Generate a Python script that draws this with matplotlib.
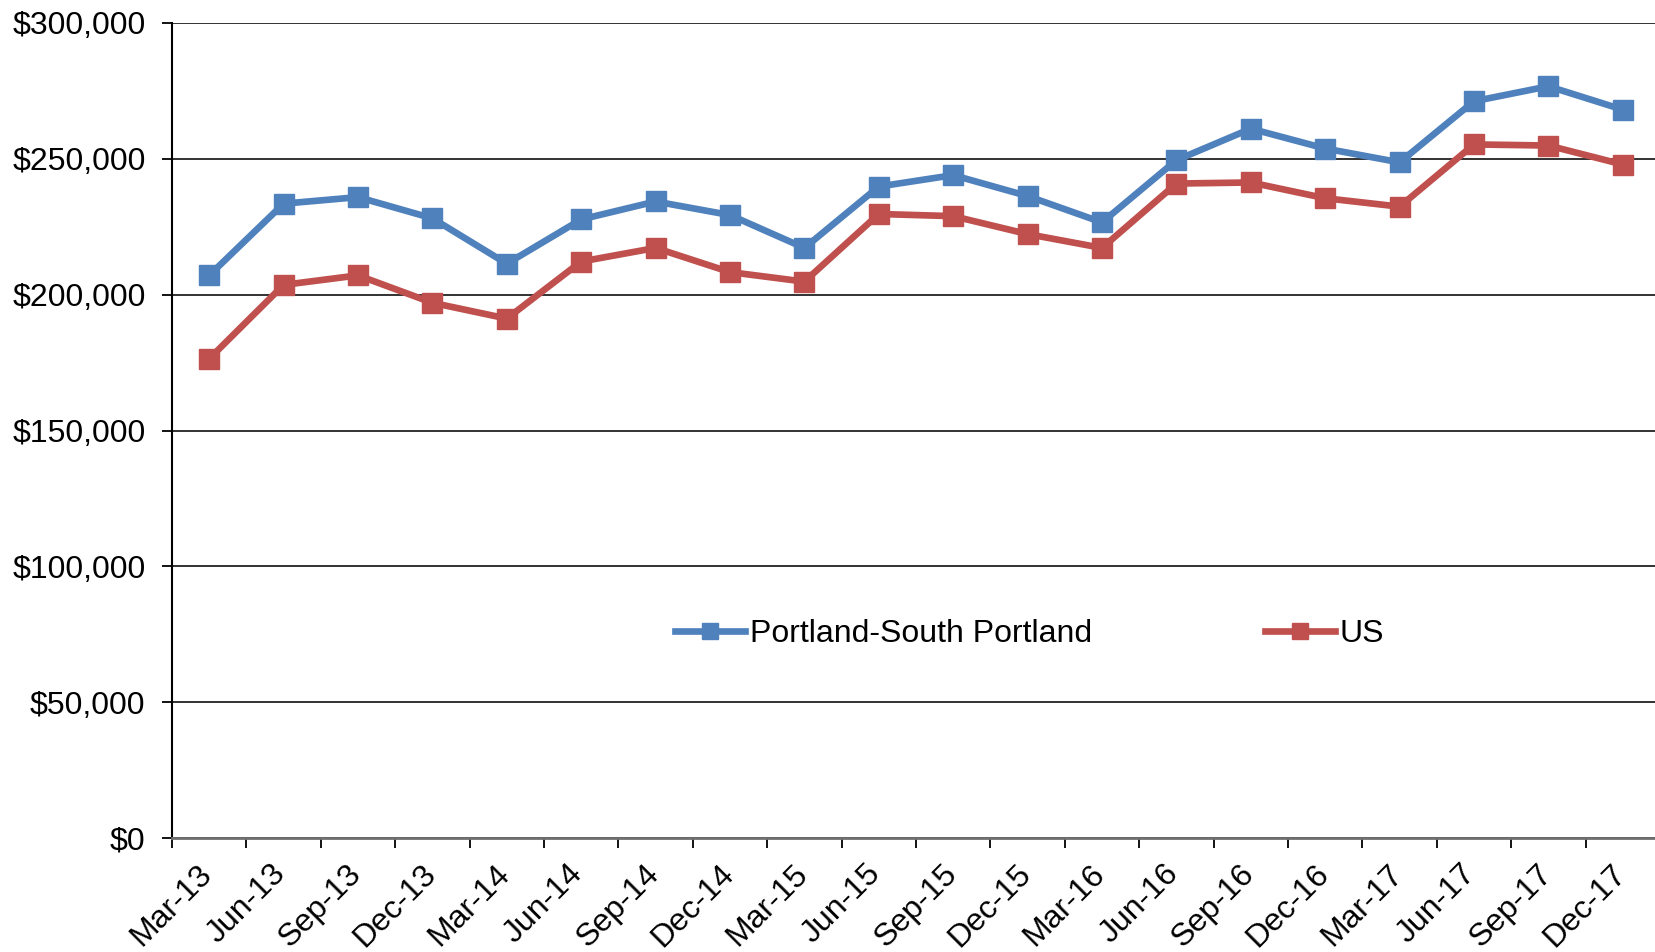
import numpy as np
import matplotlib
matplotlib.use("Agg")
import matplotlib.pyplot as plt
from matplotlib.ticker import FuncFormatter

plt.rcParams['font.family'] = ['Liberation Sans', 'DejaVu Sans']

# quarter labels on the category axis
quarters = ["Mar-13", "Jun-13", "Sep-13", "Dec-13",
            "Mar-14", "Jun-14", "Sep-14", "Dec-14",
            "Mar-15", "Jun-15", "Sep-15", "Dec-15",
            "Mar-16", "Jun-16", "Sep-16", "Dec-16",
            "Mar-17", "Jun-17", "Sep-17", "Dec-17"]

# median sale price
portland = [207100, 233500, 235900, 228100, 211400, 227700, 234300, 229300,
            217200, 239800, 244000, 236300, 226600, 249500, 261100, 253800,
            248700, 271200, 276700, 268100]
us = [176400, 203600, 207100, 197000, 191200, 212200, 217200, 208300,
      204800, 229700, 228900, 222300, 217200, 240900, 241300, 235500,
      232400, 255300, 254900, 247900]

yticks = [0, 50000, 100000, 150000, 200000, 250000, 300000]

blue = "#4F81BD"
red = "#C0504D"

fig = plt.figure(figsize=(16.55, 9.52), dpi=100)
ax = fig.add_axes([172/1655, 114/952, 1488/1655, 815/952])

x = np.arange(len(quarters)) + 0.5
ax.plot(x, portland, color=blue, lw=4.8, marker='s', ms=14,
        label="Portland-South Portland", zorder=3)
ax.plot(x, us, color=red, lw=4.8, marker='s', ms=14, label="US", zorder=3)

ax.set_xlim(0, len(quarters))
ax.set_ylim(0, 300000)
ax.set_xticks(np.arange(len(quarters)))
ax.set_xticklabels(quarters, rotation=45, ha='center', va='top')
ax.set_yticks(yticks)
ax.yaxis.set_major_formatter(FuncFormatter(lambda v, p: "${:,.0f}".format(v)))

ax.yaxis.grid(True, color='#222222', lw=1.3)
ax.set_axisbelow(True)
for s in ['top', 'right']:
    ax.spines[s].set_visible(False)
ax.spines['left'].set_color('black')
ax.spines['left'].set_linewidth(1.5)
ax.spines['bottom'].set_color('#707070')
ax.spines['bottom'].set_linewidth(2)

ax.tick_params(axis='y', labelsize=23, length=7, width=1.3, pad=12)
ax.tick_params(axis='x', labelsize=23, length=7, width=1.3, pad=8)

ax.legend(loc='center left', bbox_to_anchor=(675/1655, 0.334),
          bbox_transform=fig.transFigure, ncol=2, frameon=False,
          fontsize=23, handlelength=2.2, handletextpad=0.15,
          columnspacing=5.4, borderpad=0, borderaxespad=0, markerscale=0.85)

fig.savefig("out.png", dpi=100)
